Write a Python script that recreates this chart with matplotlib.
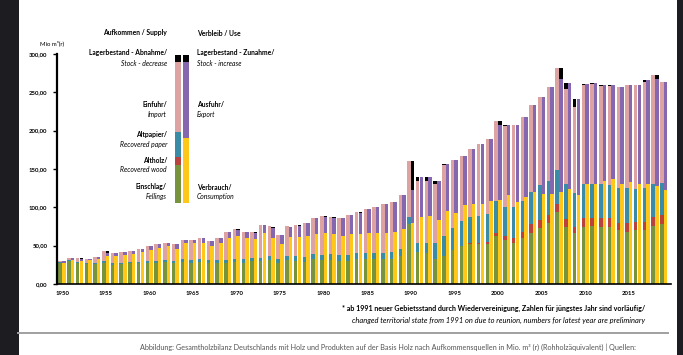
import matplotlib
matplotlib.use("Agg")
import matplotlib.pyplot as plt
from matplotlib.patches import Rectangle
from matplotlib.lines import Line2D
import numpy as np

plt.rcParams['font.family'] = ['Lato', 'DejaVu Sans']

years = list(range(1950, 2020))

# Aufkommen / Supply
fellings = [27, 30, 27, 26, 26, 28, 25, 26, 27, 27,
            27, 28, 29, 27, 29, 28, 29, 28, 28, 28,
            29, 28, 30, 30, 31, 27, 31, 30, 29, 32,
            31, 31, 30, 30, 32, 32, 32, 32, 32, 36,
            78, 42, 40, 32, 37, 45, 50, 52, 52, 52,
            63, 58, 54, 60, 67, 73, 80, 94, 75, 66,
            75, 76, 75, 75, 70, 68, 70, 70, 76, 78]
recovered_wood = [0] * 47 + [1, 2, 3,
                  3, 5, 6.5, 8, 11, 11, 10, 10, 9.6, 8.7,
                  11, 10, 11, 11, 10, 11, 10.5, 11, 11, 12]
recovered_paper = [1.5, 1.5, 1.5, 1.5, 1.5, 2, 2, 2, 2, 2,
                   2.5, 2.5, 2.5, 2.5, 3, 3, 3, 3, 3.5, 3.5,
                   4, 4, 4, 4.5, 5, 5, 5.5, 6, 6.5, 7,
                   7, 7.5, 7.5, 8, 8, 8.5, 9, 9, 9.5, 10,
                   9, 12, 13, 22, 26, 28, 32, 34, 35, 36,
                   42, 38, 40, 40, 42, 45, 44, 45, 46, 44,
                   45, 44, 44, 43, 45, 46, 43, 44, 44, 42]
imports = [1.5, 2.5, 5.5, 5.5, 7.5, 13, 13, 14, 14, 17,
           20.5, 21.5, 22.5, 22.5, 26, 27, 27.5, 25.5, 28.5, 36.5,
           39, 36, 34, 42.5, 39, 32, 38.5, 41, 44.5, 47,
           51, 48.5, 48.5, 52, 54, 57, 60, 63.5, 65.5, 70,
           73, 80, 81, 76, 92, 89, 85.5, 89, 94, 98,
           105, 105, 106.5, 110, 113, 115.5, 123.6, 133, 123.4, 112.3,
           129, 131, 128, 129, 132, 135, 135.5, 138, 142, 132]

# Verbleib / Use
consumption = [28, 31, 30, 31, 33, 37, 36, 38, 39, 42,
               45, 47, 49, 46, 53, 54, 54, 50, 54, 60,
               62, 60, 59, 66, 60, 52, 61, 61, 62, 65,
               66, 65, 63, 65, 65, 66, 66, 67, 68, 72,
               80, 88, 89, 84, 95, 93, 103, 104, 105, 108,
               109, 116, 107, 114, 120, 118, 118, 120, 124, 116,
               130, 130, 134, 137, 131, 133, 131, 131, 128, 123]
exports = [2, 3, 2.5, 2, 2, 4, 4, 4, 4, 4,
           5, 5, 4, 6, 5, 4, 5.5, 6.5, 6, 8,
           9, 8, 8, 11, 13, 12, 14, 15, 18, 21,
           22, 21, 23, 25, 28, 31.5, 35, 37.5, 39, 44,
           43, 52, 51, 50, 62, 69, 64.5, 72, 78, 81,
           98, 92, 100, 104, 113, 126.5, 139.6, 148, 138, 125,
           131, 132, 126, 122, 126, 127, 128, 135, 140, 141]
# Lagerbestand: + Zunahme (use), - Abnahme (supply)
stock_change = [0, 0, 1.5, 0, 0, 2, 0, 0, 0, 0,
                0, 0, 1, 0, 0, 0, 0, 0, 0, 0,
                1, 0, 1, 0, 2, 0, 0, 1, 0, 0,
                1, 1, 0, 0, 1, 0, 0, 0, 0, 0,
                37, -6, -6, -4, -2, 0, 0, 0, 0, 0,
                6, -2, 0, 0, 0, 0, 0, 14, -8, -10,
                -1, -1, -2, -1, 0, 0, 0, -3, 5, 0]

yticks = [0, 50, 100, 150, 200, 250, 300]
ytick_labels = ['0,00', '50,00', '100,00', '150,00', '200,00', '250,00', '300,00']
xticks = list(range(1950, 2020, 5))

C_GREEN = '#77933C'
C_RED = '#B8433E'
C_BLUE = '#3A8BA6'
C_PINK = '#DDA3A3'
C_YELLOW = '#FFC819'
C_PURPLE = '#8467AE'
C_BLACK = '#000000'

W, H = 683, 355
fig = plt.figure(figsize=(W / 100, H / 100), dpi=100)


def fx(x):
    return x / W


def fy(y):
    return 1 - y / H


# axes placement (pixel based)
x_left_px, x_right_px = 57, 671
y_top_px, y_bot_px = 54, 284
px_per_year = 8.72
x0 = 1950 - (62 - x_left_px) / px_per_year
x1 = 1950 + (x_right_px - 62) / px_per_year
ax = fig.add_axes([fx(x_left_px), fy(y_bot_px), (x_right_px - x_left_px) / W,
                   (y_bot_px - y_top_px) / H])
ax.set_xlim(x0, x1)
ax.set_ylim(0, 300)

yr = np.array(years, dtype=float)
F = np.array(fellings, float)
A = np.array(recovered_wood, float)
P = np.array(recovered_paper, float)
I = np.array(imports, float)
Cn = np.array(consumption, float)
E = np.array(exports, float)
S = np.array(stock_change, float)

bw = 0.4
xl = yr - 0.21
xr = yr + 0.21

ax.bar(xl, F, width=bw, color=C_GREEN, linewidth=0)
ax.bar(xl, A, width=bw, bottom=F, color=C_RED, linewidth=0)
ax.bar(xl, P, width=bw, bottom=F + A, color=C_BLUE, linewidth=0)
ax.bar(xl, I, width=bw, bottom=F + A + P, color=C_PINK, linewidth=0)
dec = np.where(S < 0, -S, 0)
ax.bar(xl, dec, width=bw, bottom=F + A + P + I, color=C_BLACK, linewidth=0)

ax.bar(xr, Cn, width=bw, color=C_YELLOW, linewidth=0)
ax.bar(xr, E, width=bw, bottom=Cn, color=C_PURPLE, linewidth=0)
inc = np.where(S > 0, S, 0)
ax.bar(xr, inc, width=bw, bottom=Cn + E, color=C_BLACK, linewidth=0)

for s in ['top', 'right']:
    ax.spines[s].set_visible(False)
ax.spines['left'].set_linewidth(1.6)
ax.spines['bottom'].set_linewidth(1.2)
ax.set_yticks(yticks)
ax.set_yticklabels(ytick_labels, fontsize=4.3, fontweight='bold')
ax.set_xticks(xticks)
ax.set_xticklabels([str(x) for x in xticks], fontsize=4.3, fontweight='bold')
ax.tick_params(axis='y', length=3, width=1.0, pad=4)
ax.tick_params(axis='x', length=0, pad=5)

# y-axis unit
fig.text(fx(40), fy(43), 'Mio m³(r)', fontsize=4.3, va='center', ha='left')

# legend illustration (bars)
lx, rx, bwp = 175, 183, 6


def rect(x, y0, y1, c):
    fig.add_artist(Rectangle((fx(x), fy(y1)), bwp / W, (y1 - y0) / H,
                             transform=fig.transFigure, color=c, lw=0))


rect(lx, 55, 62, C_BLACK)
rect(lx, 62, 132, C_PINK)
rect(lx, 132, 157, C_BLUE)
rect(lx, 157, 165, C_RED)
rect(lx, 165, 203, C_GREEN)
rect(rx, 55, 62, C_BLACK)
rect(rx, 62, 138, C_PURPLE)
rect(rx, 138, 203, C_YELLOW)

fs = 4.9
lt = dict(fontsize=fs, va='center')
fig.text(fx(167), fy(33), 'Aufkommen / Supply', ha='right', fontweight='bold', **lt)
fig.text(fx(197), fy(33), 'Verbleib / Use', ha='left', fontweight='bold', **lt)
left_labels = [('Lagerbestand - Abnahme/', 'Stock - decrease', 53),
               ('Einfuhr/', 'Import', 104),
               ('Altpapier/', 'Recovered paper', 135),
               ('Altholz/', 'Recovered wood', 160),
               ('Einschlag/', 'Fellings', 187)]
for de, en, y in left_labels:
    fig.text(fx(167), fy(y), de, ha='right', fontweight='bold', **lt)
    fig.text(fx(167), fy(y + 10), en, ha='right', style='italic', **lt)
right_labels = [('Lagerbestand - Zunahme/', 'Stock - increase', 53),
                ('Ausfuhr/', 'Export', 104),
                ('Verbrauch/', 'Consumption', 187)]
for de, en, y in right_labels:
    fig.text(fx(197), fy(y), de, ha='left', fontweight='bold', **lt)
    fig.text(fx(197), fy(y + 10), en, ha='left', style='italic', **lt)

# footnote
fig.text(fx(645), fy(308),
         '* ab 1991 neuer Gebietsstand durch Wiedervereinigung, Zahlen für jüngstes Jahr sind vorläufig/',
         ha='right', va='center', fontsize=5.1, fontweight='bold')
fig.text(fx(645), fy(320),
         'changed territorial state from 1991 on due to reunion, numbers for latest year are preliminary',
         ha='right', va='center', fontsize=5.4, style='italic')

# separator and caption
fig.add_artist(Line2D([fx(18), fx(668)], [fy(333), fy(333)], transform=fig.transFigure,
                      color='#a0a0a0', lw=1.4))
fig.text(fx(140), fy(347),
         'Abbildung: Gesamtholzbilanz Deutschlands mit Holz und Produkten auf der Basis Holz nach '
         'Aufkommensquellen in Mio. m³ (r) (Rohholzäquivalent) | Quellen:',
         ha='left', va='center', fontsize=5.2, color='#555555')

# dark screenshot borders
fig.add_artist(Rectangle((0, 0), fx(19), 1, transform=fig.transFigure, color='#1d1d21', lw=0))
fig.add_artist(Rectangle((fx(677), 0), fx(6), 1, transform=fig.transFigure, color='#1d1d21', lw=0))

fig.savefig('out.png', dpi=100)
